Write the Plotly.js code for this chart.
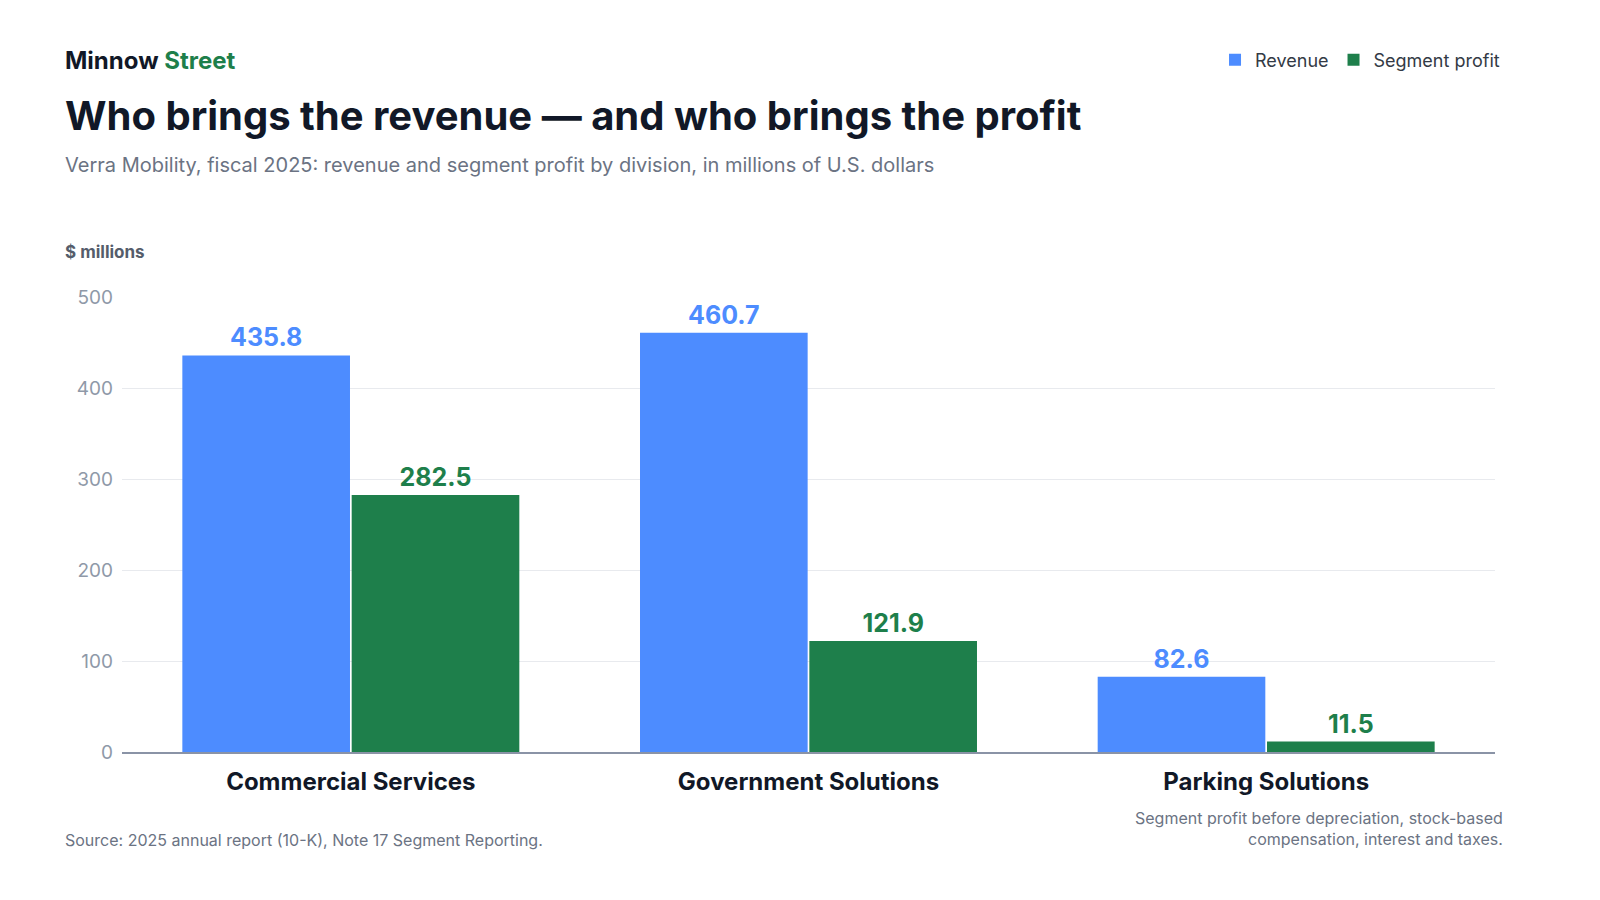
<!DOCTYPE html>
<html><head><meta charset="utf-8">
<script src="https://cdn.plot.ly/plotly-3.0.1.min.js"></script>
<style>body{margin:0;background:#fff}#c{width:1600px;height:900px}</style>
</head><body><div id="c"></div>
<script>
const categories = ["Commercial Services", "Government Solutions", "Parking Solutions"];
const revenue = [435.8, 460.7, 82.6];
const segmentProfit = [282.5, 121.9, 11.5];
const yTicks = [0, 100, 200, 300, 400, 500];

const blue = "#4d8cff", green = "#1e7f4b";
const F = "Inter, 'Noto Sans', sans-serif";
const mk = (name, y, color) => ({
  type: "bar", name, x: categories, y,
  marker: {color},
  text: y.map(v => v.toFixed(1)), texttemplate: "%{text}",
  textposition: "outside", cliponaxis: false,
  textfont: {family: F, size: 25, color, weight: 700},
  hoverinfo: "skip"
});
const W = 1373, H = 455;
const px = x => (x - 122) / W, py = y => (752 - y) / H;
const ann = (x, y, text, size, color, xanchor, weight, yanchor) => ({
  xref: "paper", yref: "paper", x: px(x), y: py(y), text, showarrow: false,
  xanchor, yanchor: yanchor || "middle", align: xanchor,
  font: {family: F, size, color, weight: weight || 400}
});
const layout = {
  width: 1600, height: 900, paper_bgcolor: "#fff", plot_bgcolor: "#fff",
  margin: {l: 122, r: 105, t: 297, b: 148},
  barmode: "group", bargap: 0.26, bargroupgap: 0.01,
  showlegend: true,
  legend: {orientation: "h", x: 1.0073, xanchor: "right", y: py(60), yanchor: "middle",
    font: {family: F, size: 18, color: "#333a45"}, itemwidth: 30, traceorder: "normal"},
  xaxis: {tickfont: {family: F, size: 24, color: "#111827", weight: 700},
    showline: true, linecolor: "#8a93a6", linewidth: 1.5, ticks: "", ticklabelstandoff: 8},
  yaxis: {range: [0, 500], tickvals: yTicks, ticktext: yTicks.map(String),
    tickfont: {family: F, size: 19, color: "#8f99a8"}, gridcolor: "#e8eaee",
    zeroline: false, showline: false, ticklabelstandoff: 8},
  annotations: [
    ann(63, 60, "<b>Minnow <span style='color:#1e7f4b'>Street</span></b>", 24, "#111827", "left", 700),
    ann(63, 115, "<b>Who brings the revenue — and who brings the profit</b>", 40, "#111827", "left", 700),
    ann(63, 165, "Verra Mobility, fiscal 2025: revenue and segment profit by division, in millions of U.S. dollars", 20, "#6b7383", "left"),
    ann(63, 252, "<b>$ millions</b>", 17, "#555d6b", "left", 600),
    ann(63, 840, "Source: 2025 annual report (10-K), Note 17 Segment Reporting.", 16, "#6b7383", "left"),
    ann(1505, 828, "Segment profit before depreciation, stock-based<br>compensation, interest and taxes.", 16, "#6b7383", "right")
  ]
};
Plotly.newPlot("c", [mk("Revenue", revenue, blue), mk("Segment profit", segmentProfit, green)], layout, {displayModeBar: false, staticPlot: true});
</script></body></html>
